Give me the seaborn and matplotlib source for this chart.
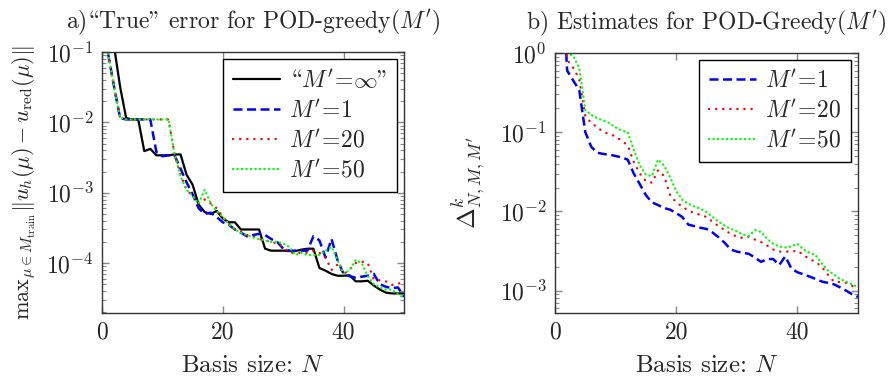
import numpy as np
import pandas as pd
import matplotlib
matplotlib.use("Agg")
import matplotlib.pyplot as plt
import seaborn as sns
from matplotlib.ticker import LogLocator, FuncFormatter, FixedLocator, NullFormatter

# basis sizes
basis_n = list(range(1, 51))

# a) "true" error
err_inf = [1.0, 0.12, 0.032, 0.0115, 0.011, 0.011, 0.0039, 0.0042, 0.0034, 0.0034,
           0.0034, 0.0035, 0.0035, 0.0018, 0.0013, 0.00068, 0.00053, 0.0005, 0.00055, 0.00043,
           0.00038, 0.00038, 0.0003, 0.0003, 0.0003, 0.0003, 0.00016, 0.00015, 0.00015, 0.00015,
           0.000148, 0.000148, 0.000155, 0.00016, 0.00016, 0.000085, 0.000078, 0.00007, 0.000066, 0.000066,
           0.000067, 0.000055, 0.000055, 0.000056, 0.000048, 0.000042, 0.000038, 0.000037, 0.000037, 0.000037]
err_m1 = [0.095, 0.032, 0.0115, 0.011, 0.011, 0.011, 0.011, 0.011, 0.0038, 0.0033,
          0.0034, 0.0034, 0.0022, 0.0014, 0.00095, 0.0006, 0.0005, 0.00052, 0.00045, 0.00038,
          0.00035, 0.0003, 0.00027, 0.00024, 0.00025, 0.00026, 0.00025, 0.00022, 0.0002, 0.00016,
          0.00015, 0.00015, 0.00015, 0.00015, 0.00024, 0.00021, 0.00012, 0.00022, 0.00011, 0.00007,
          0.000065, 0.000062, 0.000064, 0.000066, 0.00007, 0.00005, 0.000046, 0.000044, 0.000045, 0.000033]
err_m20 = [0.095, 0.032, 0.0115, 0.011, 0.011, 0.011, 0.011, 0.011, 0.011, 0.011,
           0.011, 0.0036, 0.0018, 0.0011, 0.0009, 0.0007, 0.0008, 0.0007, 0.0006, 0.00045,
           0.00036, 0.0003, 0.00028, 0.00025, 0.00024, 0.00022, 0.00021, 0.0002, 0.00019, 0.00017,
           0.00014, 0.00014, 0.00014, 0.00014, 0.00015, 0.00014, 0.00012, 0.00008, 0.000095, 0.00007,
           0.00008, 0.0001, 0.000105, 0.0001, 0.000058, 0.000057, 0.000055, 0.000049, 0.00005, 0.000058]
err_m50 = [0.095, 0.032, 0.0115, 0.011, 0.011, 0.011, 0.011, 0.011, 0.011, 0.011,
           0.011, 0.0036, 0.0017, 0.0011, 0.0009, 0.0007, 0.0011, 0.0007, 0.00055, 0.00045,
           0.00036, 0.0003, 0.00027, 0.00025, 0.00023, 0.00022, 0.00021, 0.0002, 0.0002, 0.00019,
           0.00017, 0.00013, 0.00014, 0.00013, 0.00013, 0.00013, 0.00015, 0.00017, 0.00011, 0.00007,
           0.00008, 0.00011, 0.0001, 0.000065, 0.00005, 0.000045, 0.000042, 0.000042, 0.000036, 0.000032]

# b) estimates
est_m1 = [18.0, 0.6, 0.45, 0.34, 0.1, 0.065, 0.055, 0.053, 0.052, 0.05,
          0.048, 0.045, 0.03, 0.022, 0.016, 0.013, 0.012, 0.011, 0.0105, 0.0095,
          0.0085, 0.0068, 0.0065, 0.0062, 0.006, 0.0054, 0.0047, 0.004, 0.0033, 0.0031,
          0.003, 0.0029, 0.0026, 0.0023, 0.0025, 0.0025, 0.0021, 0.0027, 0.0019, 0.0017,
          0.0016, 0.0015, 0.0014, 0.0013, 0.00125, 0.0012, 0.0011, 0.001, 0.0009, 0.00083]
est_m20 = [6.0, 0.82, 0.65, 0.47, 0.16, 0.13, 0.115, 0.1, 0.095, 0.088,
           0.078, 0.068, 0.042, 0.03, 0.024, 0.023, 0.033, 0.028, 0.016, 0.013,
           0.0115, 0.0102, 0.0095, 0.009, 0.0085, 0.0074, 0.0065, 0.0058, 0.0052, 0.0048,
           0.0046, 0.0048, 0.0044, 0.0041, 0.0037, 0.0033, 0.0031, 0.0031, 0.0031, 0.0032,
           0.0028, 0.0025, 0.0023, 0.002, 0.0016, 0.0013, 0.00128, 0.00125, 0.00115, 0.00105]
est_m50 = [10.0, 1.0, 0.92, 0.65, 0.19, 0.165, 0.15, 0.14, 0.13, 0.115,
           0.105, 0.1, 0.06, 0.038, 0.029, 0.028, 0.045, 0.038, 0.027, 0.018,
           0.014, 0.0125, 0.0115, 0.0108, 0.0098, 0.0085, 0.0074, 0.0066, 0.006, 0.0056,
           0.0051, 0.0049, 0.0058, 0.0055, 0.0045, 0.0039, 0.0036, 0.0035, 0.0036, 0.0039,
           0.0033, 0.003, 0.0028, 0.0022, 0.0018, 0.0016, 0.0014, 0.0013, 0.0012, 0.0011]

sns.set_theme(style="ticks")
plt.rcParams["font.family"] = ["cmr10", "DejaVu Serif"]
plt.rcParams["mathtext.fontset"] = "cm"
plt.rcParams["axes.unicode_minus"] = False

FS = 17

fig = plt.figure(figsize=(8.89, 3.77), dpi=100)
ax1 = fig.add_axes([102 / 889, 1 - 313 / 377, 302 / 889, 261 / 377])
ax2 = fig.add_axes([555 / 889, 1 - 313 / 377, 303 / 889, 260 / 377])

styles = {
    "inf": dict(color="black", lw=1.6, linestyle="-"),
    "m1": dict(color="blue", lw=1.8, linestyle=(0, (3.6, 1.8))),
    "m20": dict(color="red", lw=1.7, linestyle=(0, (0.1, 2.9)), dash_capstyle="round"),
    "m50": dict(color="#00ff00", lw=1.7, linestyle=(0, (0.1, 1.8)), dash_capstyle="round"),
}

# in cmr10, "\" and '"' hold the TeX left/right double quotes
lab_inf = "\\ $\\!\\!M'\\!=\\!\\infty$\""
lab_m1 = "$M'\\!=\\!1$"
lab_m20 = "$M'\\!=\\!20$"
lab_m50 = "$M'\\!=\\!50$"

for key, vals, lab in [("inf", err_inf, lab_inf), ("m1", err_m1, lab_m1),
                       ("m20", err_m20, lab_m20), ("m50", err_m50, lab_m50)]:
    sns.lineplot(x=basis_n, y=vals, ax=ax1, label=lab, **styles[key])

for key, vals, lab in [("m1", est_m1, lab_m1), ("m20", est_m20, lab_m20),
                       ("m50", est_m50, lab_m50)]:
    sns.lineplot(x=basis_n, y=vals, ax=ax2, label=lab, **styles[key])


def log_fmt(v, pos):
    return "$10^{%d}$" % int(round(np.log10(v)))


for ax, ylim in [(ax1, (1.95e-5, 0.1)), (ax2, (5.2e-4, 1.0))]:
    ax.set_yscale("log")
    ax.set_xlim(0, 50)
    ax.set_ylim(*ylim)
    ax.xaxis.set_major_locator(FixedLocator([0, 20, 40]))
    ax.yaxis.set_major_locator(LogLocator(base=10))
    ax.yaxis.set_minor_locator(LogLocator(base=10, subs=np.arange(2, 10)))
    ax.yaxis.set_major_formatter(FuncFormatter(log_fmt))
    ax.yaxis.set_minor_formatter(NullFormatter())
    ax.tick_params(which="both", direction="in", top=True, right=True,
                   labelsize=FS, color="#888888", pad=6)
    ax.tick_params(which="major", length=5, width=1)
    ax.tick_params(which="minor", length=3, width=0.8)
    for s in ax.spines.values():
        s.set_color("#333333")
        s.set_linewidth(1.0)
    ax.set_xlabel("Basis size: $N$", fontsize=18, labelpad=8)
    leg = ax.legend(loc="upper right", fontsize=17, frameon=True, fancybox=False,
                    edgecolor="black", framealpha=1, handlelength=2.0,
                    borderaxespad=0.3, labelspacing=0.3, borderpad=0.4,
                    handletextpad=0.4)
    leg.get_frame().set_linewidth(1.0)

ax1.set_title("a)\\True\" error for POD-greedy($M'$)", fontsize=17, pad=17)
ax2.set_title("b) Estimates for POD-Greedy($M'$)", fontsize=17, pad=17)
ax1.set_ylabel(r"$\mathrm{max}_{\mu\in M_{\mathrm{train}}}\Vert u_h(\mu)-u_{\mathrm{red}}(\mu)\Vert$",
               fontsize=16, labelpad=6)
ax2.set_ylabel(r"$\Delta^{k}_{N,M,M'}$", fontsize=18, labelpad=8)

fig.savefig("out.png", dpi=100)
